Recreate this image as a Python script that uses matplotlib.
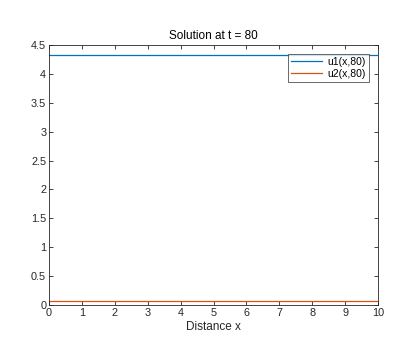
import matplotlib
matplotlib.use("Agg")
import matplotlib.pyplot as plt

x = [0, 1, 2, 3, 4, 5, 6, 7, 8, 9, 10]
u1 = [4.32, 4.32, 4.32, 4.32, 4.32, 4.32, 4.32, 4.32, 4.32, 4.32, 4.32]
u2 = [0.07, 0.07, 0.07, 0.07, 0.07, 0.07, 0.07, 0.07, 0.07, 0.07, 0.07]
xticks = [0, 1, 2, 3, 4, 5, 6, 7, 8, 9, 10]
yticks = [0, 0.5, 1, 1.5, 2, 2.5, 3, 3.5, 4, 4.5]

plt.rcParams['font.family'] = ['Liberation Sans', 'DejaVu Sans']
fig = plt.figure(figsize=(4.15, 3.47), dpi=100)
ax = fig.add_axes([49/415, 1-305/347, (378-49)/415, (305-45)/347])
ax.plot(x, u1, color='#0072BD', lw=0.9, label='u1(x,80)')
ax.plot(x, u2, color='#D95319', lw=0.9, label='u2(x,80)')
ax.set_xlim(0, 10)
ax.set_ylim(0, 4.5)
ax.set_xticks(xticks)
ax.set_yticks(yticks)
ax.set_yticklabels(['0', '0.5', '1', '1.5', '2', '2.5', '3', '3.5', '4', '4.5'])
ax.tick_params(direction='in', top=True, right=True, labelsize=7.8, length=3, width=0.6, colors='#262626', pad=2)
for s in ax.spines.values():
    s.set_linewidth(0.6)
    s.set_color('#262626')
ax.set_xlabel('Distance x', fontsize=8.5, color='#262626', labelpad=2)
ax.set_title('Solution at t = 80', fontsize=8.5, color='black', pad=4)
leg = ax.legend(loc='upper right', fontsize=7.5, frameon=True, fancybox=False,
                edgecolor='#262626', handlelength=3.0, borderpad=0.3,
                labelspacing=0.2, handletextpad=0.5, borderaxespad=0.85)
leg.get_frame().set_linewidth(0.6)
fig.savefig('out.png', dpi=100)
